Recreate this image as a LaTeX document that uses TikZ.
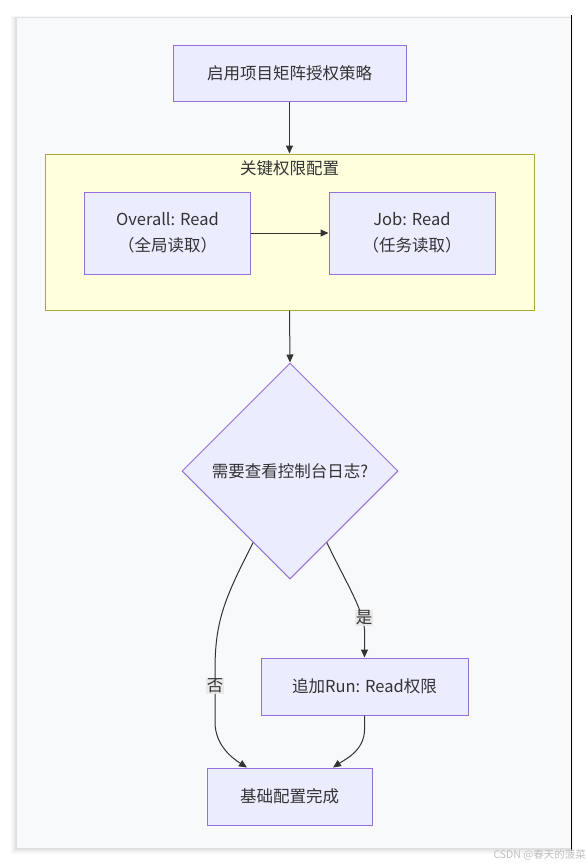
\documentclass[tikz,border=0pt]{standalone}
\usepackage{fontspec}
\setmainfont{Noto Sans CJK SC}
\usetikzlibrary{shapes.geometric,arrows.meta,calc}
\definecolor{nodefill}{HTML}{ECECFF}
\definecolor{nodeborder}{HTML}{9370DB}
\definecolor{txt}{HTML}{333333}
\definecolor{sgfill}{HTML}{FFFFDE}
\definecolor{sgborder}{HTML}{AAAA33}
\definecolor{panel}{HTML}{F8F9FA}
\definecolor{lblbg}{HTML}{E8E8E8}
\tikzset{
  box/.style={draw=nodeborder, fill=nodefill, line width=1pt, text=txt, align=center, inner sep=0pt, font=\fontsize{16.5}{26}\selectfont},
  dec/.style={diamond, draw=nodeborder, fill=nodefill, line width=1pt, text=txt, inner sep=0pt, minimum width=216pt, minimum height=216pt, font=\fontsize{16.5}{24}\selectfont},
  edge/.style={draw=txt, line width=1pt, -{Triangle[length=8pt,width=7pt]}},
  lbl/.style={fill=lblbg, fill opacity=0.9, text opacity=1, text=txt, inner sep=1pt, font=\fontsize{16.5}{20}\selectfont}
}
\begin{document}
\begin{tikzpicture}[x=1pt,y=-1pt]
\useasboundingbox (0,0) rectangle (587,865);
\fill[white] (0,0) rectangle (587,865);
% shadow
\foreach \i/\o in {6/0.03,4/0.04,2/0.05}{
  \fill[black, opacity=\o] (17-\i,18-\i*0.3) rectangle (571+\i*0.3,848+\i);
}
\fill[panel] (17,18) rectangle (571,848);
\draw[black, line width=1pt] (571,15) -- (571,851);
% subgraph
\node[draw=sgborder, fill=sgfill, line width=1pt, minimum width=489pt, minimum height=156pt, inner sep=0pt] (sg) at (289.5,232) {};
\node[text=txt, font=\fontsize{16.5}{20}\selectfont] (sgt) at (289.5,168) {关键权限配置};
% nodes
\node[box, minimum width=233pt, minimum height=56pt] (start) at (289.5,73) {启用项目矩阵授权策略};
\node[box, minimum width=166pt, minimum height=82pt] (ov) at (167.5,233) {Overall: Read\\（全局读取）};
\node[box, minimum width=166pt, minimum height=82pt] (job) at (412,233) {Job: Read\\（任务读取）};
\node[dec] (dia) at (290,471) {需要查看控制台日志?};
\node[box, minimum width=207pt, minimum height=57pt] (run) at (364.5,686.5) {追加Run: Read权限};
\node[box, minimum width=165pt, minimum height=57pt] (fin) at (289.5,796.5) {基础配置完成};
% anchors on diamond
\coordinate (dl) at ($(dia.west)!0.66!(dia.south)$);
\coordinate (dr) at ($(dia.east)!0.66!(dia.south)$);
\coordinate (finl) at ($(fin.north)+(-42.5,0)$);
\coordinate (finr) at ($(fin.north)+(43.5,0)$);
% edges
\draw[edge] (start.south) -- (sg.north);
\draw[edge] (ov.east) -- (job.west);
\draw[edge] (sg.south) -- (dia.north);
\draw[edge] (dr) .. controls ($(dr)+(18,38)$) and ($(run.north)+(-2,-50)$) .. ($(run.north)+(0,-28)$) -- (run.north);
\draw[edge] (dl) .. controls ($(dl)+(-28,55)$) and (215,620) .. (215,670) -- (215,722) .. controls (215,745) and (232,758) .. (finl);
\draw[edge] (run.south) -- ($(run.south)+(0,14)$) .. controls ($(run.south)+(0,35)$) and ($(finr)+(12,-8)$) .. (finr);
% labels
\node[lbl] (yes) at (364,618) {是};
\node[lbl] (no) at (215,686) {否};
% watermark
\node[anchor=east, text=black!25, inner sep=0pt, font=\fontsize{10.5}{12}\selectfont] (wm) at (586,855) {CSDN @春天的菠菜};
\end{tikzpicture}
\end{document}
